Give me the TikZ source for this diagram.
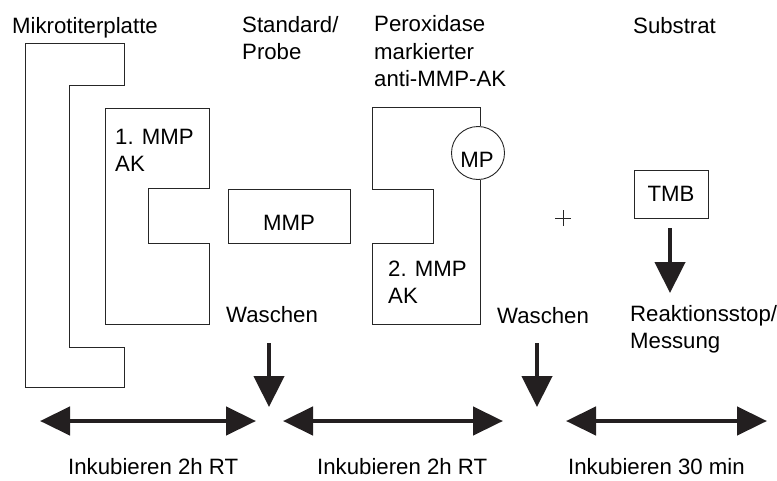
\documentclass[tikz,border=0pt]{standalone}
\usepackage{fontspec}
\setmainfont{Liberation Sans}
\usetikzlibrary{arrows.meta}
\definecolor{ink}{HTML}{231F20}
\tikzset{
  outline/.style={draw=black!85, line width=0.9pt},
  lbl/.style={anchor=base west, inner sep=0pt, font=\fontsize{22.2}{26}\selectfont},
  ctr/.style={anchor=base, inner sep=0pt, font=\fontsize{22.2}{26}\selectfont},
  downarrow/.style={draw=ink, line width=4.5pt, -{Triangle[length=31pt,width=30pt]}},
  spanarrow/.style={draw=ink, line width=4.5pt, {Triangle[length=30pt,width=28pt]}-{Triangle[length=30pt,width=28pt]}},
}
\begin{document}
\begin{tikzpicture}[x=1pt, y=-1pt]
\useasboundingbox (0,0) rectangle (777,480);

% column headings
\node[lbl] (hplate) at (12,33) {Mikrotiterplatte};
\node[lbl] (hstd1) at (242,32) {Standard/};
\node[lbl] (hstd2) at (242,59) {Probe};
\node[lbl] (hperox1) at (374,31) {Peroxidase};
\node[lbl] (hperox2) at (374,59) {markierter};
\node[lbl] (hperox3) at (374,86) {anti-MMP-AK};
\node[lbl] (hsub) at (633,33) {Substrat};

% microtiter plate
\draw[outline] (25,43) -- (124,43) -- (124,85) -- (69,85) -- (69,347)
  -- (124,347) -- (124,387) -- (25,387) -- cycle;

% capture antibody
\draw[outline] (105,108) -- (209,108) -- (209,188) -- (148,188) -- (148,243)
  -- (209,243) -- (209,324) -- (105,324) -- cycle;
\node[lbl] (ak1a) at (115,144) {1. MMP};
\node[lbl] (ak1b) at (115,171) {AK};

% antigen
\draw[outline] (228,189) rectangle (350,243);
\node[ctr] (mmp) at (289,230) {MMP};

% detection antibody with peroxidase label
\draw[outline] (480,180) -- (480,324) -- (372,324) -- (372,243) -- (433,243)
  -- (433,189) -- (372,189) -- (372,107) -- (480,107) -- (480,126);
\node[outline, circle, fill=white, minimum size=53pt, inner sep=0pt] (mp) at (478,153) {};
\node[ctr] (mptext) at (477,167) {MP};
\node[lbl] (ak2a) at (388,276) {2. MMP};
\node[lbl] (ak2b) at (388,303) {AK};

% plus sign
\coordinate (plus) at (563,218);
\draw[black!85, line width=0.8pt] ([xshift=-8pt]plus) -- ([xshift=8pt]plus)
  ([yshift=-8pt]plus) -- ([yshift=8pt]plus);

% substrate
\draw[outline] (634,170) rectangle (708,218);
\node[ctr] (tmb) at (671,201) {TMB};
\coordinate (tmbbot) at (670,228);
\coordinate (stopin) at (670,293);
\draw[downarrow] (tmbbot) -- (stopin);
\node[lbl] (stop1) at (630,321) {Reaktionsstop/};
\node[lbl] (stop2) at (630,348) {Messung};

% washing steps
\node[lbl] (wash1) at (226,322) {Waschen};
\node[lbl] (wash2) at (497,323) {Waschen};
\coordinate (w1a) at (269,343);
\coordinate (w1b) at (269,407);
\coordinate (w2a) at (537,343);
\coordinate (w2b) at (537,407);
\draw[downarrow] (w1a) -- (w1b);
\draw[downarrow] (w2a) -- (w2b);

% incubation spans
\coordinate (s1a) at (40,421);
\coordinate (s1b) at (256,421);
\coordinate (s2a) at (283,421);
\coordinate (s2b) at (503,421);
\coordinate (s3a) at (566,421);
\coordinate (s3b) at (767,421);
\draw[spanarrow] (s1a) -- (s1b);
\draw[spanarrow] (s2a) -- (s2b);
\draw[spanarrow] (s3a) -- (s3b);
\node[lbl] (inc1) at (68,474) {Inkubieren 2h RT};
\node[lbl] (inc2) at (317,474) {Inkubieren 2h RT};
\node[lbl] (inc3) at (568,474) {Inkubieren 30 min};
\end{tikzpicture}
\end{document}
